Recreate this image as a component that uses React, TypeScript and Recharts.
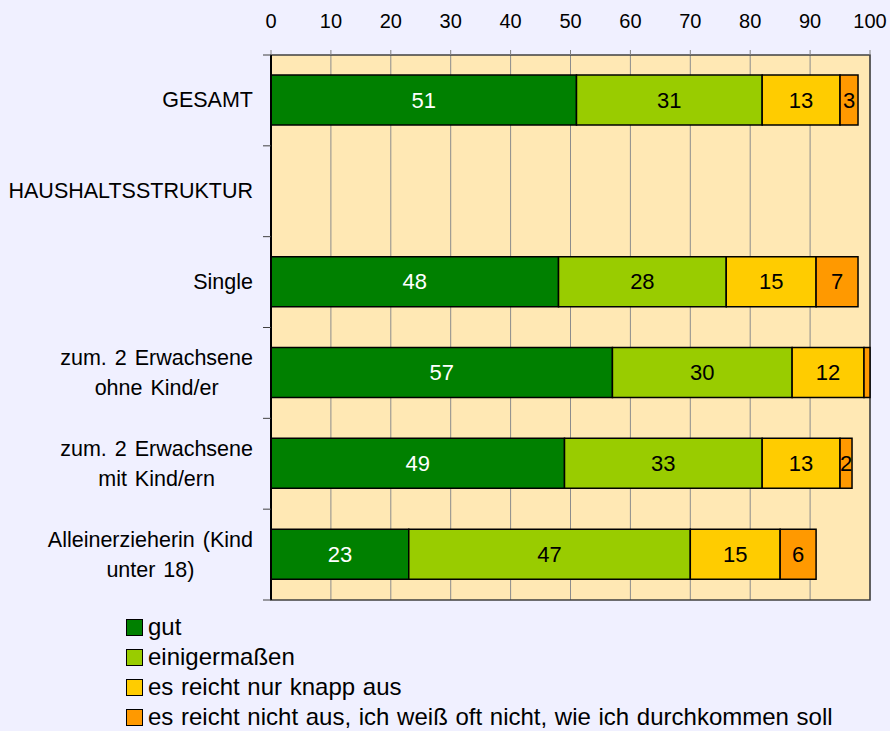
import React from 'react';
import { BarChart, Bar, XAxis, YAxis, CartesianGrid, Legend, LabelList, ReferenceArea } from 'recharts';

const categories = [
  'GESAMT',
  'HAUSHALTSSTRUKTUR',
  'Single',
  'zum. 2 Erwachsene\nohne Kind/er',
  'zum. 2 Erwachsene\nmit Kind/ern',
  'Alleinerzieherin (Kind\nunter 18)',
];
const gut = [51, null, 48, 57, 49, 23];
const einigermassen = [31, null, 28, 30, 33, 47];
const knapp = [13, null, 15, 12, 13, 15];
const nichtAus = [3, null, 7, 1, 2, 6];
const xTicks = [0, 10, 20, 30, 40, 50, 60, 70, 80, 90, 100];

const seriesNames = [
  'gut',
  'einigermaßen',
  'es reicht nur knapp aus',
  'es reicht nicht aus, ich weiß oft nicht, wie ich durchkommen soll',
];

const data = categories.map((name, i) => ({
  name,
  gut: gut[i],
  einigermassen: einigermassen[i],
  knapp: knapp[i],
  nichtAus: nichtAus[i],
}));

const FONT = '"Liberation Sans", Arial, sans-serif';
const CAT_SIZE = 21.5;
const LABEL_SIZE = 22;
const LEGEND_SIZE = 24;
const PLOT_TOP = 55;
const PLOT_BOTTOM = 600;
const BAND = (PLOT_BOTTOM - PLOT_TOP) / categories.length;

let ctx: CanvasRenderingContext2D | null = null;
const measure = (s: string) => {
  if (!ctx) ctx = document.createElement('canvas').getContext('2d');
  if (!ctx) return s.length * 10;
  ctx.font = `${CAT_SIZE}px ${FONT}`;
  return ctx.measureText(s).width + (s.split(' ').length - 1) * 2;
};

const CategoryTick = (props: any) => {
  const { x, y, payload, index } = props;
  const right = 253;
  const lines = String(payload.value).split('\n');
  const marks = (
    <>
      <line x1={x - 8} x2={x} y1={y - BAND / 2} y2={y - BAND / 2} stroke="#404040" />
      {index === categories.length - 1 && (
        <line x1={x - 8} x2={x} y1={y + BAND / 2} y2={y + BAND / 2} stroke="#404040" />
      )}
    </>
  );
  if (lines.length === 1) {
    return (
      <g>
        {marks}
        <text x={right} y={y} dy={7} textAnchor="end" fontSize={CAT_SIZE} fill="#000">
          {lines[0]}
        </text>
      </g>
    );
  }
  const w = Math.max(...lines.map(measure));
  const cx = right - w / 2;
  return (
    <g>
      {marks}
      <text x={cx} y={y} textAnchor="middle" fontSize={CAT_SIZE} fill="#000" wordSpacing={2}>
        {lines.map((l, i) => (
          <tspan key={i} x={cx} y={y - 15 + i * 30} dy={7}>
            {l}
          </tspan>
        ))}
      </text>
    </g>
  );
};

const fmt = (v: any) => (v == null || v < 2 ? '' : v);

const renderLegend = (props: any) => {
  const items = [...(props.payload || [])].sort(
    (a: any, b: any) => seriesNames.indexOf(a.value) - seriesNames.indexOf(b.value)
  );
  return (
    <div style={{ height: 120 }}>
      {items.map((entry: any) => (
        <div key={entry.value} style={{ display: 'flex', alignItems: 'center', height: 30 }}>
          <span
            style={{
              display: 'inline-block',
              width: 15,
              height: 15,
              background: entry.color,
              border: '1px solid #000',
              marginRight: 5,
              flexShrink: 0,
            }}
          />
          <span style={{ color: '#000', whiteSpace: 'nowrap', wordSpacing: 1 }}>{entry.value}</span>
        </div>
      ))}
    </div>
  );
};

export default function App() {
  return (
    <div
      style={{
        position: 'absolute',
        left: 0,
        top: 0,
        width: 890,
        height: 731,
        background: '#F0F0FF',
        fontFamily: FONT,
        overflow: 'hidden',
      }}
    >
      <BarChart
        width={890}
        height={731}
        data={data}
        layout="vertical"
        margin={{ top: 0, right: 20, bottom: 11, left: 0 }}
        barSize={50}
      >
        <CartesianGrid horizontal={false} stroke="#8c8c8c" fill="#FFE8B4" fillOpacity={1} />
        <XAxis
          type="number"
          orientation="top"
          domain={[0, 100]}
          ticks={xTicks}
          interval={0}
          height={PLOT_TOP}
          axisLine={false}
          tickSize={5}
          tickMargin={22}
          tickLine={{ stroke: '#808080' }}
          tick={{ fill: '#000', fontSize: 20 }}
        />
        <YAxis
          type="category"
          dataKey="name"
          width={271}
          tickLine={false}
          tickSize={0}
          tickMargin={0}
          axisLine={{ stroke: '#000', strokeWidth: 2 }}
          tick={<CategoryTick />}
          interval={0}
        />
        <ReferenceArea x1={0} x2={100} fill="none" stroke="#404040" strokeWidth={1.5} ifOverflow="visible" />
        <Bar dataKey="gut" name={seriesNames[0]} stackId="a" fill="#008000" stroke="#000" strokeWidth={1.5} isAnimationActive={false}>
          <LabelList dataKey="gut" position="center" fill="#fff" fontSize={LABEL_SIZE} formatter={fmt} />
        </Bar>
        <Bar dataKey="einigermassen" name={seriesNames[1]} stackId="a" fill="#99CC00" stroke="#000" strokeWidth={1.5} isAnimationActive={false}>
          <LabelList dataKey="einigermassen" position="center" fill="#000" fontSize={LABEL_SIZE} formatter={fmt} />
        </Bar>
        <Bar dataKey="knapp" name={seriesNames[2]} stackId="a" fill="#FFCC00" stroke="#000" strokeWidth={1.5} isAnimationActive={false}>
          <LabelList dataKey="knapp" position="center" fill="#000" fontSize={LABEL_SIZE} formatter={fmt} />
        </Bar>
        <Bar dataKey="nichtAus" name={seriesNames[3]} stackId="a" fill="#FF9900" stroke="#000" strokeWidth={1.5} isAnimationActive={false}>
          <LabelList dataKey="nichtAus" position="center" fill="#000" fontSize={LABEL_SIZE} formatter={fmt} />
        </Bar>
        <Legend
          layout="horizontal"
          verticalAlign="bottom"
          align="center"
          content={renderLegend}
          wrapperStyle={{ left: 126, top: 612, width: 'auto', fontSize: LEGEND_SIZE, lineHeight: '30px' }}
        />
      </BarChart>
    </div>
  );
}
